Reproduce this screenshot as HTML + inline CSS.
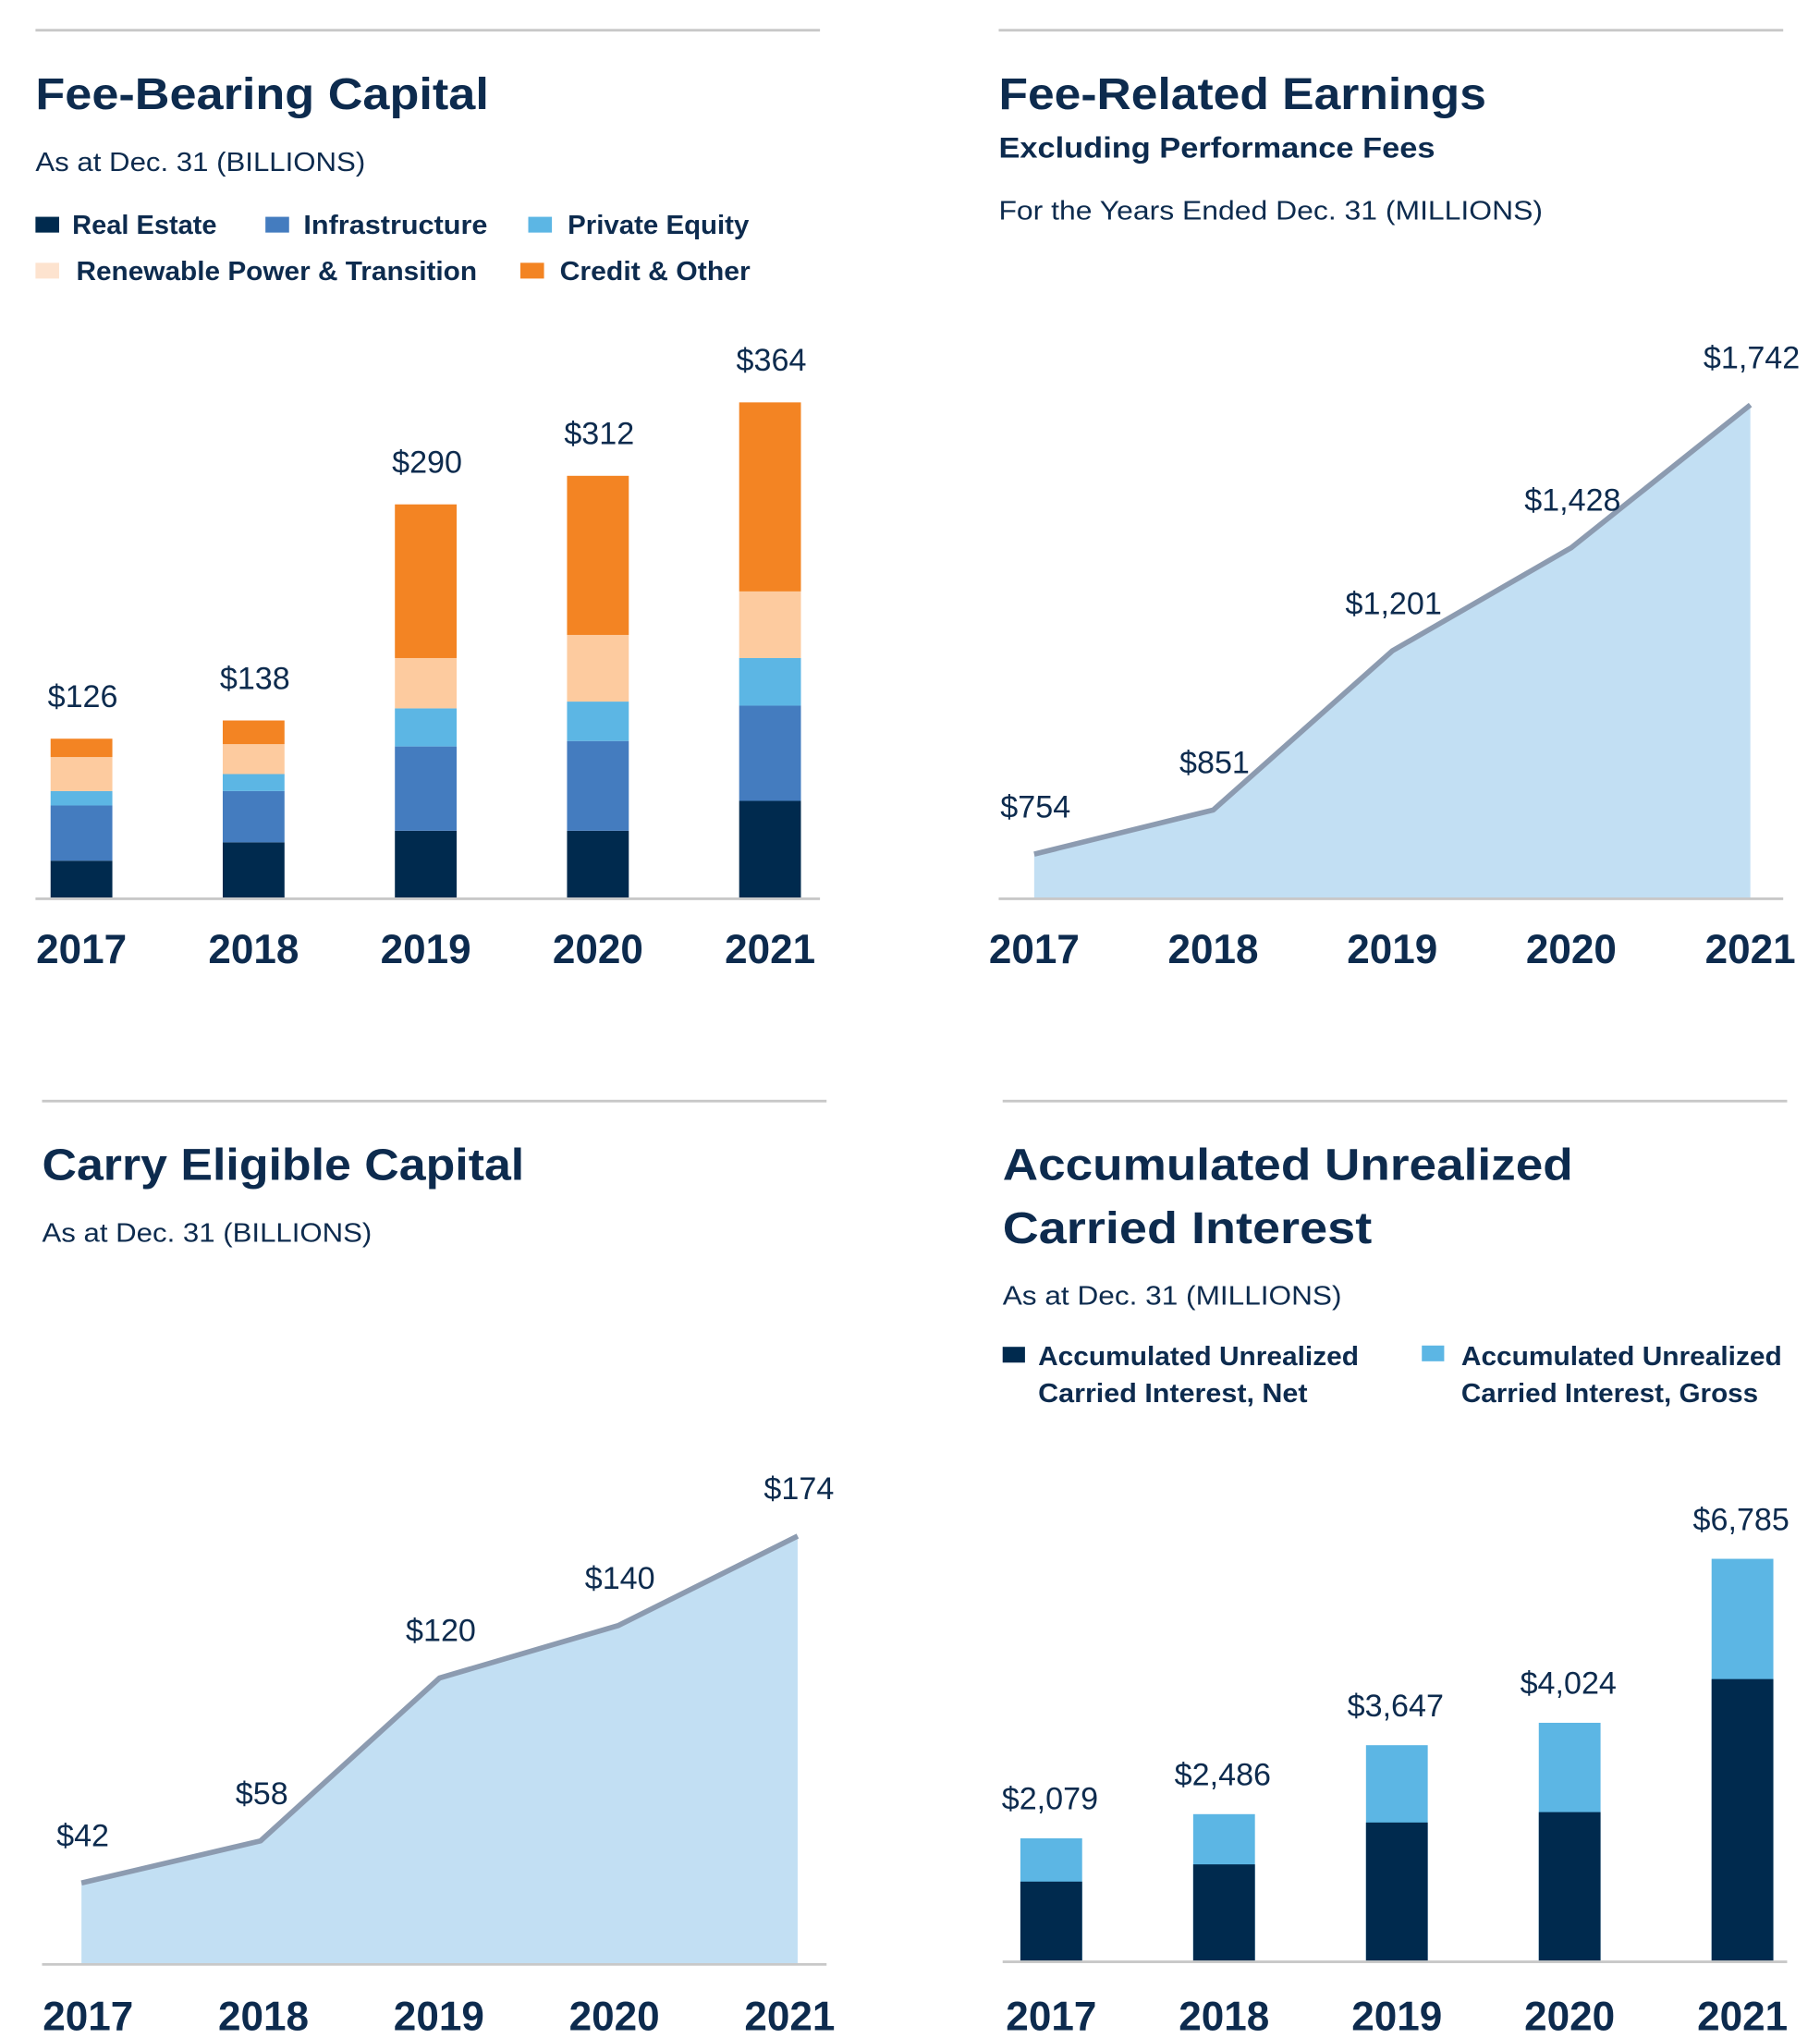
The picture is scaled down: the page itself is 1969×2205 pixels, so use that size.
<!DOCTYPE html>
<html><head><meta charset="utf-8"><style>
html,body{margin:0;padding:0;background:#fff;}
svg{display:block;font-family:"Liberation Sans",sans-serif;}
</style></head><body>
<svg id="root" width="1969" height="2205" viewBox="0 0 1385 1551" preserveAspectRatio="none" xmlns="http://www.w3.org/2000/svg">
<g fill="#0d2b4e">
 <!-- Panel 1 -->
 <line x1="27" y1="23" x2="624" y2="23" stroke="#c8c8c8" stroke-width="2"/>
 <text x="27" y="83" font-size="34" font-weight="bold" textLength="345" lengthAdjust="spacingAndGlyphs">Fee-Bearing Capital</text>
 <text x="27" y="130" font-size="20" textLength="251" lengthAdjust="spacingAndGlyphs">As at Dec. 31 (BILLIONS)</text>
 <g font-size="20" font-weight="bold">
  <rect x="27" y="165" width="18" height="12" fill="#002a4e"/><text x="55" y="178" textLength="110" lengthAdjust="spacingAndGlyphs">Real Estate</text>
  <rect x="202" y="165" width="18" height="12" fill="#447cbf"/><text x="231" y="178" textLength="140" lengthAdjust="spacingAndGlyphs">Infrastructure</text>
  <rect x="402" y="165" width="18" height="12" fill="#5cb6e4"/><text x="432" y="178" textLength="138" lengthAdjust="spacingAndGlyphs">Private Equity</text>
  <rect x="27" y="200" width="18" height="12" fill="#fde3cf"/><text x="58" y="213" textLength="305" lengthAdjust="spacingAndGlyphs">Renewable Power &amp; Transition</text>
  <rect x="396" y="200" width="18" height="12" fill="#f38423"/><text x="426" y="213" textLength="145" lengthAdjust="spacingAndGlyphs">Credit &amp; Other</text>
 </g>
 <g id="p1"></g>
 <!-- Panel 2 -->
 <line x1="760" y1="23" x2="1357" y2="23" stroke="#c8c8c8" stroke-width="2"/>
 <text x="760" y="83" font-size="34" font-weight="bold" textLength="371" lengthAdjust="spacingAndGlyphs">Fee-Related Earnings</text>
 <text x="760" y="120" font-size="22" font-weight="bold" textLength="332" lengthAdjust="spacingAndGlyphs">Excluding Performance Fees</text>
 <text x="760" y="167" font-size="20" textLength="414" lengthAdjust="spacingAndGlyphs">For the Years Ended Dec. 31 (MILLIONS)</text>
 <g id="p2"></g>
 <!-- Panel 3 -->
 <line x1="32" y1="838" x2="629" y2="838" stroke="#c8c8c8" stroke-width="2"/>
 <text x="32" y="898" font-size="34" font-weight="bold" textLength="367" lengthAdjust="spacingAndGlyphs">Carry Eligible Capital</text>
 <text x="32" y="945" font-size="20" textLength="251" lengthAdjust="spacingAndGlyphs">As at Dec. 31 (BILLIONS)</text>
 <g id="p3"></g>
 <!-- Panel 4 -->
 <line x1="763" y1="838" x2="1360" y2="838" stroke="#c8c8c8" stroke-width="2"/>
 <text x="763" y="898" font-size="34" font-weight="bold" textLength="434" lengthAdjust="spacingAndGlyphs">Accumulated Unrealized</text>
 <text x="763" y="946" font-size="34" font-weight="bold" textLength="281" lengthAdjust="spacingAndGlyphs">Carried Interest</text>
 <text x="763" y="993" font-size="20" textLength="258" lengthAdjust="spacingAndGlyphs">As at Dec. 31 (MILLIONS)</text>
 <g font-size="20" font-weight="bold">
  <rect x="763" y="1025" width="17" height="12" fill="#002a4e"/>
  <text x="790" y="1039" textLength="244" lengthAdjust="spacingAndGlyphs">Accumulated Unrealized</text>
  <text x="790" y="1067" textLength="205" lengthAdjust="spacingAndGlyphs">Carried Interest, Net</text>
  <rect x="1082" y="1024" width="17" height="12" fill="#5cb6e4"/>
  <text x="1112" y="1039" textLength="244" lengthAdjust="spacingAndGlyphs">Accumulated Unrealized</text>
  <text x="1112" y="1067" textLength="226" lengthAdjust="spacingAndGlyphs">Carried Interest, Gross</text>
 </g>
 <g id="p4"></g>
</g>
</svg>
<script>
const NS="http://www.w3.org/2000/svg";
const years=["2017","2018","2019","2020","2021"];
// Panel 1: Fee-bearing capital (billions)
const fbcRealEstate=[28,41.5,50,50,72];
const fbcInfra=[40.6,37.7,62,66,70];
const fbcPE=[10.6,12.5,28,29,35];
const fbcRenew=[25,22,37,49,49];
const fbcCredit=[13.5,17.4,113,117,139];
const fbcTotals=[126,138,290,312,364];
const fbcTotalLabels=["$126","$138","$290","$312","$364"];
// Panel 2: FRE (millions)
const freValues=[754,851,1201,1428,1742];
const freLabels=["$754","$851","$1,201","$1,428","$1,742"];
// Panel 3: Carry eligible capital (billions)
const cecValues=[42,58,120,140,174];
const cecLabels=["$42","$58","$120","$140","$174"];
// Panel 4: AUCI (millions)
const auciNet=[1350,1640,2345,2520,4760];
const auciGross=[2079,2486,3647,4024,6785];
const auciLabels=["$2,079","$2,486","$3,647","$4,024","$6,785"];

function mk(parent,tag,attrs,text){const e=document.createElementNS(NS,tag);for(const k in attrs)e.setAttribute(k,attrs[k]);if(text!==undefined)e.textContent=text;parent.appendChild(e);return e;}
function band(x0,step){return i=>x0+i*step;}

// Panel 1
(function(){
 const g=document.getElementById('p1');
 const x=band(62,131), base=684, k=1.035, y=v=>base-v*k, bw=47;
 const series=[[fbcRealEstate,'#002a4e','real-estate'],[fbcInfra,'#447cbf','infrastructure'],[fbcPE,'#5cb6e4','private-equity'],[fbcRenew,'#fdcb9f','renewable-power'],[fbcCredit,'#f38423','credit-other']];
 years.forEach((yr,i)=>{
  let acc=0, top=base;
  series.forEach(([arr,c,n])=>{
   const r=mk(g,'rect',{x:x(i)-bw/2,y:y(acc+arr[i]),width:bw,height:arr[i]*k,fill:c});
   
   
   acc+=arr[i]; top=y(acc);
  });
  const t=mk(g,'text',{x:x(i)+1,y:top-24,'font-size':24,'text-anchor':'middle'},fbcTotalLabels[i]);
  
  
  const yl=mk(g,'text',{x:x(i),y:733,'font-size':31,'font-weight':'bold','text-anchor':'middle'},yr);
  
  
 });
 const l=mk(g,'line',{x1:27,y1:base,x2:624,y2:base,stroke:'#c8c8c8','stroke-width':2});
 
 
})();

function areaChart(gid,vals,labels,x,y,base,x1,x2,pref){
 const g=document.getElementById(gid);
 let d='M'+x(0)+','+base;
 vals.forEach((v,i)=>d+=' L'+x(i)+','+y(v));
 d+=' L'+x(vals.length-1)+','+base+' Z';
 const a=mk(g,'path',{d:d,fill:'#c2dff3'});
 
 
 const ln=mk(g,'polyline',{points:vals.map((v,i)=>x(i)+','+y(v)).join(' '),fill:'none',stroke:'#8c9bb0','stroke-width':4,'stroke-linejoin':'round'});
 
 
 const ax=mk(g,'line',{x1:x1,y1:base,x2:x2,y2:base,stroke:'#c8c8c8','stroke-width':2});
 
 
 vals.forEach((v,i)=>{
  const t=mk(g,'text',{x:x(i)+1,y:y(v)-28,'font-size':24,'text-anchor':'middle'},labels[i]);
  
  
 });
}
// Panel 2
(function(){
 const x=band(787,136.25), base=684, y=v=>650-(v-754)*0.346;
 areaChart('p2',freValues,freLabels,x,y,base,760,1357,'fre');
 const g=document.getElementById('p2');
 years.forEach((yr,i)=>{const t=mk(g,'text',{x:x(i),y:733,'font-size':31,'font-weight':'bold','text-anchor':'middle'},yr);
  
  });
})();
// Panel 3
(function(){
 const x=band(62,136.25), base=1495, y=v=>1401-(v-58)*2;
 areaChart('p3',cecValues,cecLabels,x,y,base,32,629,'cec');
 const g=document.getElementById('p3');
 years.forEach((yr,i)=>{const t=mk(g,'text',{x:67+i*133.5,y:1545,'font-size':31,'font-weight':'bold','text-anchor':'middle'},yr);
  
  });
})();
// Panel 4
(function(){
 const g=document.getElementById('p4');
 const x=band(800,131.5), base=1493, k=0.0452, y=v=>base-v*k, bw=47;
 years.forEach((yr,i)=>{
  const gr=mk(g,'rect',{x:x(i)-bw/2,y:y(auciGross[i]),width:bw,height:auciGross[i]*k,fill:'#5cb6e4'});
  
  
  const nt=mk(g,'rect',{x:x(i)-bw/2,y:y(auciNet[i]),width:bw,height:auciNet[i]*k,fill:'#002a4e'});
  
  
  const t=mk(g,'text',{x:x(i)-1,y:y(auciGross[i])-22,'font-size':24,'text-anchor':'middle'},auciLabels[i]);
  
  
  const yl=mk(g,'text',{x:x(i),y:1545,'font-size':31,'font-weight':'bold','text-anchor':'middle'},yr);
  
  
 });
 const l=mk(g,'line',{x1:763,y1:base,x2:1360,y2:base,stroke:'#c8c8c8','stroke-width':2});
 
 
})();
</script>
</body></html>
